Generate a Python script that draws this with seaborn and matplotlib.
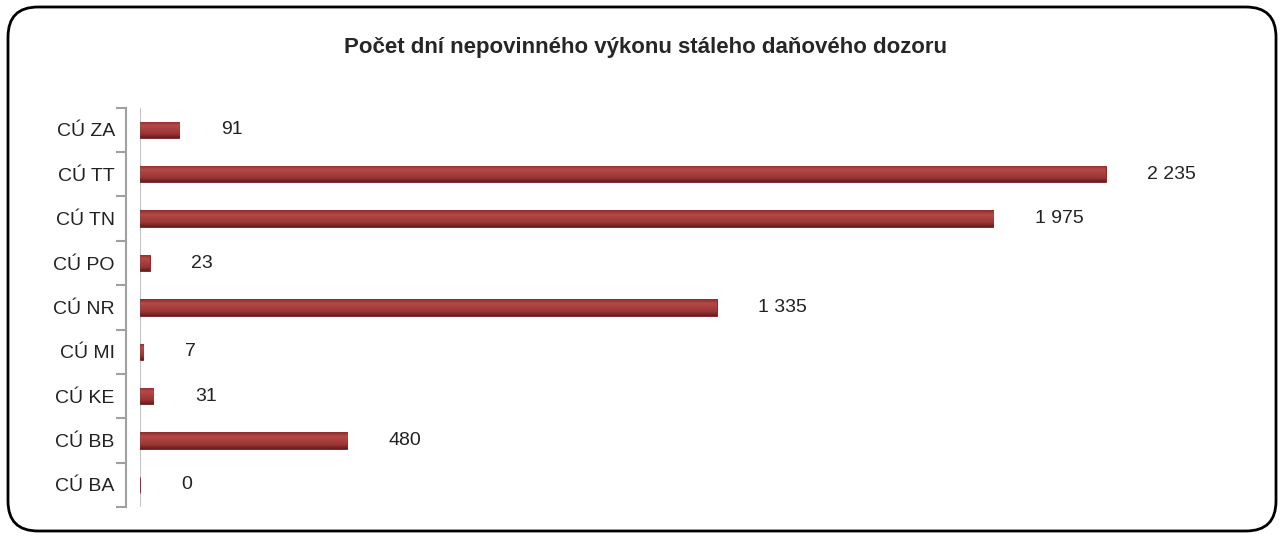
import numpy as np
import matplotlib
matplotlib.use("Agg")
import matplotlib.pyplot as plt
import seaborn as sns
from matplotlib.patches import FancyBboxPatch
from matplotlib.transforms import IdentityTransform
from matplotlib.colors import LinearSegmentedColormap

# data (top to bottom)
offices = ['CÚ ZA', 'CÚ TT', 'CÚ TN', 'CÚ PO', 'CÚ NR', 'CÚ MI', 'CÚ KE', 'CÚ BB', 'CÚ BA']
days = [91, 2235, 1975, 23, 1335, 7, 31, 480, 0]
title = 'Počet dní nepovinného výkonu stáleho daňového dozoru'

sns.set_style('white')
plt.rcParams['font.family'] = ['Liberation Sans', 'DejaVu Sans']

fig = plt.figure(figsize=(12.83, 5.36), dpi=100)
ax = fig.add_axes([0.109, 0.054, 0.842, 0.745])

sns.barplot(x=days, y=offices, orient='h', color='#a33a3a', width=0.37,
            edgecolor='#6e1e20', linewidth=0.6, ax=ax)

# cylinder-like shading inside each bar
cyl = LinearSegmentedColormap.from_list('cyl', ['#8a2c2d', '#b44a48', '#a83f3e', '#9a3536', '#6a1a1b'])
grad = np.linspace(0, 1, 64).reshape(-1, 1)
for p in ax.patches:
    x0, y0 = p.get_x(), p.get_y()
    w, h = max(p.get_width(), 6), p.get_height()
    im = ax.imshow(grad, cmap=cyl, aspect='auto', origin='upper',
                   extent=[x0, x0 + w, y0 + h, y0], zorder=p.get_zorder())
    im.set_clip_path(p)

labels = [f'{v:,}'.replace(',', ' ') for v in days]
ax.bar_label(ax.containers[0], labels=labels, padding=30, fontsize=14, color='#222222')

ax.set_xlim(0, 2500)
ax.set_ylim(len(offices) - 0.5, -0.5)
ax.set_xlabel('')
ax.set_ylabel('')
ax.set_xticks([])

# wall look: grey left spine with ticks at the category edges
for s in ['top', 'right', 'bottom']:
    ax.spines[s].set_visible(False)
ax.spines['left'].set_color('#a0a0a0')
ax.spines['left'].set_linewidth(1.5)
ax.spines['left'].set_position(('outward', 10))
ax.axvline(0, color='#b8b8b8', lw=1.2, zorder=0)
ax.set_yticks(np.arange(len(offices) + 1) - 0.5, minor=True)
ax.tick_params(axis='y', which='major', left=False, length=0, labelsize=14, pad=8, labelcolor='#222222')
ax.tick_params(axis='y', which='minor', left=True, length=7, width=1.5, color='#a0a0a0', direction='out')

fig.text(0.503, 0.912, title, ha='center', va='center', fontsize=16, fontweight='bold')

# rounded frame around the whole chart
frame = FancyBboxPatch((8, 5), 1268, 524, boxstyle='round,pad=0,rounding_size=30',
                       transform=IdentityTransform(), fill=False, edgecolor='black',
                       linewidth=2, figure=fig)
fig.patches.append(frame)

fig.savefig('out.png', dpi=100)
